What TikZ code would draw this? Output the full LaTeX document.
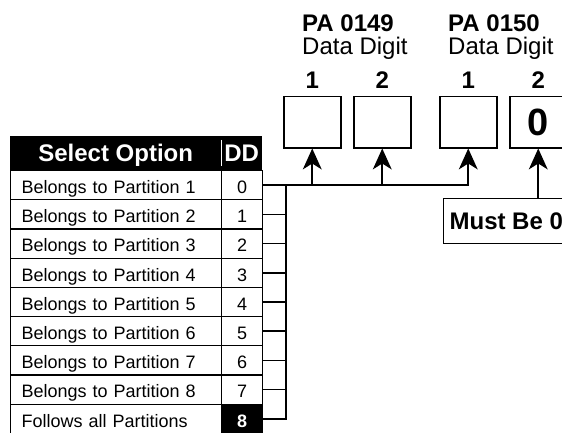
\documentclass[tikz,border=0pt]{standalone}
\usepackage{fontspec}
\setmainfont{Liberation Sans}
\usetikzlibrary{positioning}
\tikzset{
  optcell/.style={draw, line width=1.2pt, anchor=north west,
    minimum width=211pt, minimum height=29.2pt, text width=189pt,
    inner xsep=11pt, inner ysep=0pt, align=left,
    text height=16.5pt, text depth=0pt, font=\fontsize{18}{20}\selectfont},
  ddcell/.style={draw, line width=1.2pt, anchor=north west,
    minimum width=41pt, minimum height=29.2pt, inner sep=0pt,
    text height=16.5pt, text depth=0pt, font=\fontsize{18}{20}\selectfont},
  hdcell/.style={fill=black, text=white, anchor=north west,
    minimum height=34pt, inner sep=0pt, text height=17pt, text depth=0pt,
    font=\fontsize{24}{26}\selectfont\bfseries},
  digbox/.style={draw, line width=1.5pt, anchor=north west,
    minimum width=57pt, minimum height=51pt, inner sep=0pt},
  hd/.style={inner sep=0pt, font=\fontsize{24}{26}\selectfont\bfseries},
  wire/.style={line width=1.6pt},
  feed/.style={line width=1.6pt, shorten >=10pt},
  head/.pic={\fill (0,0) -- (-9.5,21) -- (0,15) -- (9.5,21) -- cycle;}
}
\begin{document}
\begin{tikzpicture}[x=1pt,y=-1pt]
  \useasboundingbox (0,0) rectangle (562,433);
  \clip (0,0) rectangle (562,433);

  \node[hdcell, minimum width=211pt] (hopt) at (10,136) {Select Option};
  \node[hdcell, minimum width=41pt] (hdd) at (221,136) {DD};
  \draw[white, line width=1pt] ([yshift=-4pt]hdd.north west) -- ([yshift=4pt]hdd.south west);

  \foreach \i in {0,...,7} {
    \pgfmathtruncatemacro\part{\i+1}
    \node[optcell] (opt\i) at (10,170+29.2*\i) {Belongs to Partition \part};
    \node[ddcell] (dd\i) at (221,170+29.2*\i) {\i};
  }
  \node[optcell] (opt8) at (10,170+29.2*8) {Follows all Partitions};
  \node[ddcell, fill=black, text=white, font=\fontsize{18}{20}\selectfont\bfseries] (dd8) at (221,170+29.2*8) {8};

  \node[digbox] (d1) at (283,96) {};
  \node[digbox] (d2) at (353,96) {};
  \node[digbox] (d3) at (439,96) {};
  \node[digbox, font=\fontsize{38}{40}\selectfont\bfseries] (d4) at (509,96) {0};

  \node[hd, above=7pt of d1] (n11) {1};
  \node[hd, above=7pt of d2] (n12) {2};
  \node[hd, above=7pt of d3] (n21) {1};
  \node[hd, above=7pt of d4] (n22) {2};

  \node[hd, anchor=base west] (pa149) at (302,31.7) {PA 0149};
  \node[inner sep=0pt, anchor=base west, font=\fontsize{24}{26}\selectfont] (dig149) at (302,55) {Data Digit};
  \node[hd, anchor=base west] (pa150) at (448,31.7) {PA 0150};
  \node[inner sep=0pt, anchor=base west, font=\fontsize{24}{26}\selectfont] (dig150) at (448,55) {Data Digit};

  \node[draw, line width=1.2pt, anchor=north west, minimum height=45pt,
    inner xsep=6pt, inner ysep=0pt, text height=17pt, text depth=0pt,
    font=\fontsize{24}{26}\selectfont\bfseries] (must) at (443,198) {Must Be 0};

  \coordinate (bus) at (286,0);
  \draw[wire] (dd0.east -| bus) |- (dd8.east);
  \foreach \i in {1,...,7}
    \draw[wire] (dd\i.east) -- (dd\i.east -| bus);
  \draw[feed] (dd0.east) -| (d3.south);
  \draw[feed] (d1.south |- dd0.east) -- (d1.south);
  \draw[feed] (d2.south |- dd0.east) -- (d2.south);
  \draw[feed] (must.north -| d4.south) -- (d4.south);
  \foreach \b in {d1,d2,d3,d4}
    \pic at (\b.south) {head};
\end{tikzpicture}
\end{document}
